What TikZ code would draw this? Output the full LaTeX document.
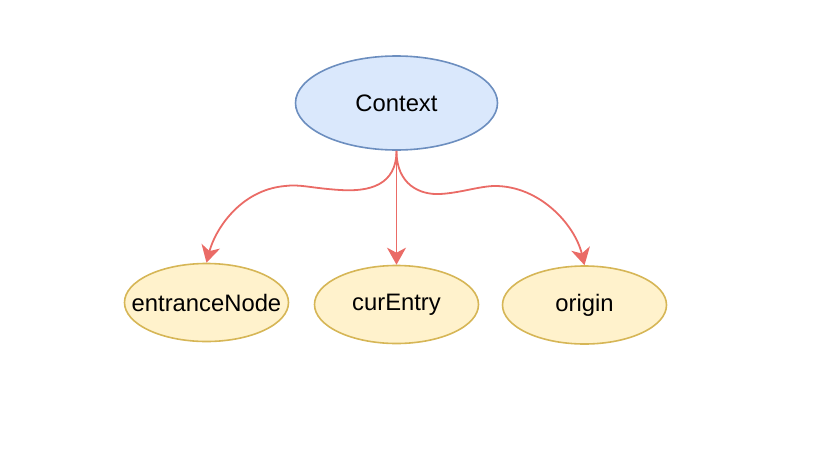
\documentclass[tikz,border=0pt]{standalone}
\usepackage{fontspec}
\setmainfont{Liberation Sans}
\usetikzlibrary{shapes.geometric,arrows.meta}
\definecolor{blueFill}{HTML}{DAE8FC}
\definecolor{blueLine}{HTML}{6C8EBF}
\definecolor{yelFill}{HTML}{FFF2CC}
\definecolor{yelLine}{HTML}{D6B656}
\definecolor{edgeRed}{HTML}{EA6B66}
\begin{document}
\begin{tikzpicture}[x=1pt,y=-1pt,
  ctxbox/.style={ellipse,draw=blueLine,fill=blueFill,line width=1.6pt,minimum width=202pt,minimum height=94pt,inner xsep=-40pt,inner ysep=0pt,font=\fontsize{23.8}{28}\selectfont},
  leafbox/.style={ellipse,draw=yelLine,fill=yelFill,line width=1.6pt,minimum width=164pt,minimum height=78pt,inner xsep=-40pt,inner ysep=0pt,font=\fontsize{23.8}{28}\selectfont},
  link/.style={draw=edgeRed,line width=1.8pt,-{Stealth[length=17pt,width=19pt,inset=5pt]}}]
\useasboundingbox (0,0) rectangle (820,466);
\node[ctxbox] (ctx) at (396.5,103) {Context};
\node[leafbox] (en) at (206.5,302.5) {entranceNode};
\node[leafbox] (ce) at (396.5,304.5) {curEntry};
\node[leafbox] (or) at (584.5,305) {origin};
\draw[link] (ctx.south) .. controls +(0,34) and (370,192) .. (340,190)
  .. controls (310,188) and (300,184) .. (285,186)
  .. controls (240,190) and (215,230) .. (en.north);
\draw[link] (ctx.south) -- (ce.north);
\draw[link] (ctx.south) .. controls +(0,34) and (420,195) .. (440,194)
  .. controls (460,193) and (480,186) .. (495,186)
  .. controls (540,186) and (575,225) .. (or.north);
\end{tikzpicture}
\end{document}
